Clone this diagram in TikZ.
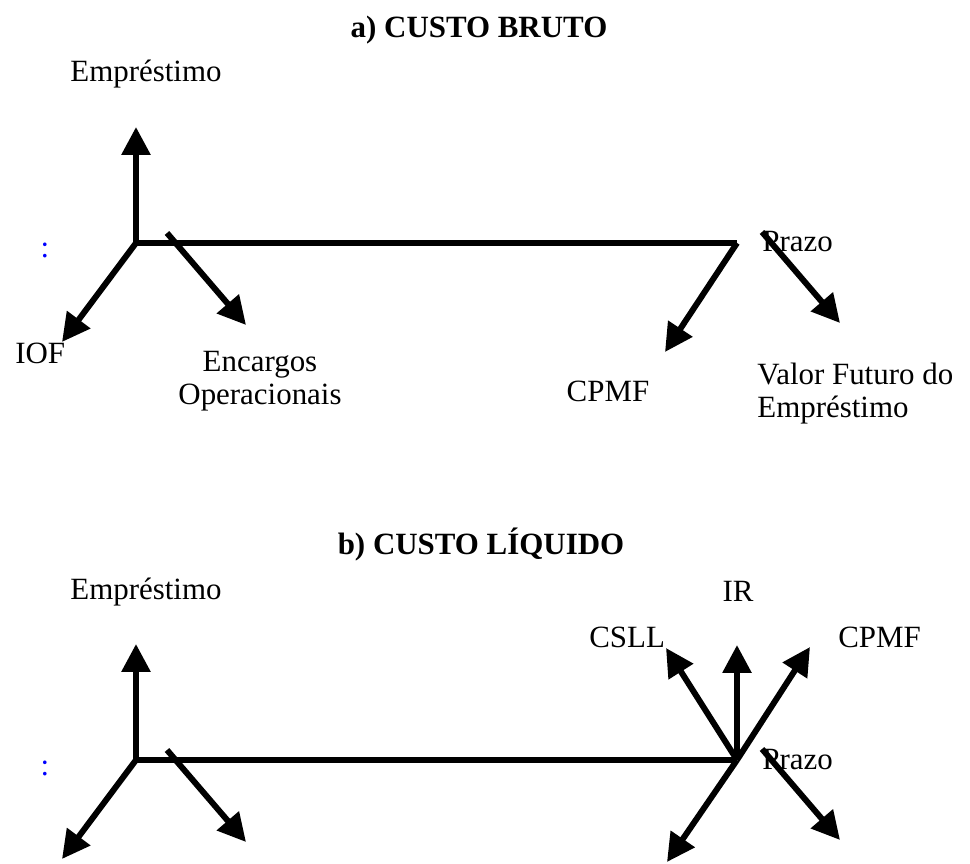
\documentclass[tikz,border=0pt]{standalone}
\usepackage{fontspec}
\setmainfont{Liberation Serif}
\usetikzlibrary{arrows.meta}

\begin{document}
\begin{tikzpicture}[font=\fontsize{17.6}{18.8}\selectfont,
    fluxo/.style={line width=3.4pt,-{Triangle[length=0.56cm,width=0.56cm]}},
    rotulo/.style={inner sep=0pt}]
            \useasboundingbox (0,0) rectangle (19.4,17.26);
            % a) custo bruto
            \node[rotulo,anchor=base] (titA) at (9.58,16.5) {\textbf{a) CUSTO BRUTO}};
            \node[rotulo,anchor=base west] (empA) at (1.40,15.62) {Empréstimo};
            \node[rotulo,anchor=base,text=blue] (pontA) at (0.90,12.10) {:};
            \coordinate (Oa) at (2.72,12.40);
            \coordinate (Ua) at (2.72,14.72);
            \coordinate (Fa) at (14.74,12.40);
            \coordinate (iofA) at (1.24,10.42);
            \coordinate (encA0) at (3.34,12.60);
            \coordinate (encA1) at (4.92,10.76);
            \coordinate (cpmfA) at (13.30,10.22);
            \coordinate (przA0) at (15.24,12.62);
            \coordinate (przA1) at (16.80,10.80);
            \draw[fluxo] (Fa)--(Oa)--(Ua);
            \draw[fluxo] (Oa)--(iofA);
            \draw[fluxo] (encA0)--(encA1);
            \draw[fluxo] (Fa)--(cpmfA);
            \node[rotulo,anchor=base west] (prazoA) at (15.24,12.22) {Prazo};
            \draw[fluxo] (przA0)--(przA1);
            \node[rotulo,anchor=base west] (txtIofA) at (0.30,9.98) {IOF};
            \node[rotulo,anchor=base,align=center] (txtEncA) at (5.20,9.16) {Encargos\\Operacionais};
            \node[rotulo,anchor=base] (txtCpmfA) at (12.16,9.22) {CPMF};
            \node[rotulo,anchor=base west,align=left] (txtVfA) at (15.14,8.90) {Valor Futuro do\\Empréstimo};
            % b) custo liquido
            \node[rotulo,anchor=base] (titB) at (9.62,6.16) {\textbf{b) CUSTO LÍQUIDO}};
            \node[rotulo,anchor=base west] (empB) at (1.40,5.26) {Empréstimo};
            \node[rotulo,anchor=base,text=blue] (pontB) at (0.90,1.76) {:};
            \coordinate (Ob) at (2.72,2.06);
            \coordinate (Ub) at (2.72,4.38);
            \coordinate (Fb) at (14.74,2.06);
            \coordinate (iofB) at (1.24,0.08);
            \coordinate (encB0) at (3.34,2.26);
            \coordinate (encB1) at (4.92,0.42);
            \coordinate (cpmfB) at (13.34,0.02);
            \coordinate (przB0) at (15.24,2.28);
            \coordinate (przB1) at (16.80,0.46);
            \coordinate (csllB) at (13.32,4.30);
            \coordinate (irB) at (14.74,4.36);
            \coordinate (cpmfB2) at (16.20,4.32);
            \draw[fluxo] (Fb)--(Ob)--(Ub);
            \draw[fluxo] (Ob)--(iofB);
            \draw[fluxo] (encB0)--(encB1);
            \draw[fluxo] (Fb)--(cpmfB);
            \draw[fluxo] (Fb)--(csllB);
            \draw[fluxo] (Fb)--(irB);
            \draw[fluxo] (Fb)--(cpmfB2);
            \node[rotulo,anchor=base west] (prazoB) at (15.24,1.88) {Prazo};
            \draw[fluxo] (przB0)--(przB1);
            \node[rotulo,anchor=base] (txtIrB) at (14.76,5.22) {IR};
            \node[rotulo,anchor=base west] (txtCsllB) at (11.78,4.30) {CSLL};
            \node[rotulo,anchor=base west] (txtCpmfB) at (16.76,4.30) {CPMF};
        \end{tikzpicture}
\end{document}
